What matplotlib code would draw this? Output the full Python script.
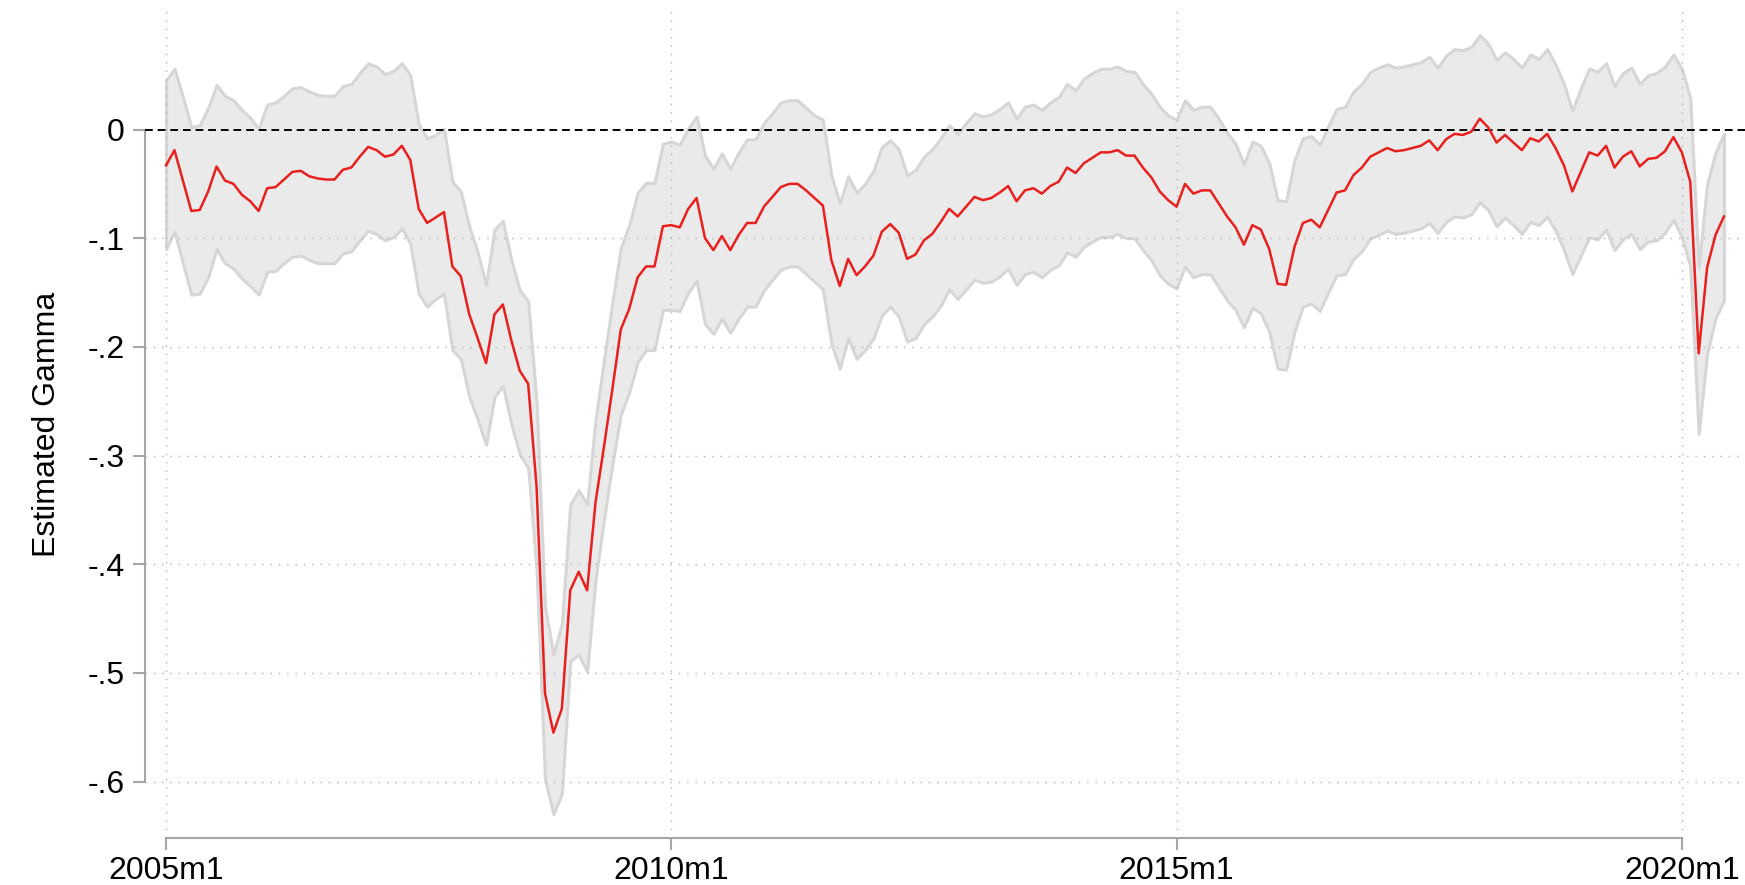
import numpy as np
import matplotlib
matplotlib.use("Agg")
import matplotlib.pyplot as plt

# Monatsreihe 2005m1 bis 2020m6 (186 Monate)
start_jahr = 2005
monate = np.arange(186)

# Punktschaetzer (rote Linie)
gamma = [
    -0.033, -0.019, -0.047, -0.075, -0.074, -0.057, -0.034, -0.047, -0.050, -0.060, -0.066, -0.075,
    -0.054, -0.053, -0.046, -0.039, -0.038, -0.043, -0.045, -0.046, -0.046, -0.037, -0.035, -0.025,
    -0.016, -0.019, -0.025, -0.023, -0.015, -0.028, -0.073, -0.086, -0.081, -0.076, -0.126, -0.135,
    -0.170, -0.192, -0.215, -0.170, -0.161, -0.194, -0.222, -0.234, -0.329, -0.519, -0.555, -0.533,
    -0.424, -0.407, -0.424, -0.343, -0.292, -0.239, -0.184, -0.165, -0.136, -0.126, -0.126, -0.089,
    -0.088, -0.090, -0.073, -0.063, -0.100, -0.111, -0.098, -0.111, -0.097, -0.086, -0.086, -0.071,
    -0.062, -0.053, -0.050, -0.050, -0.056, -0.063, -0.070, -0.120, -0.144, -0.119, -0.134, -0.126,
    -0.116, -0.094, -0.087, -0.095, -0.119, -0.115, -0.102, -0.096, -0.085, -0.073, -0.080, -0.071,
    -0.062, -0.065, -0.063, -0.058, -0.052, -0.066, -0.056, -0.054, -0.059, -0.052, -0.048, -0.035,
    -0.040, -0.031, -0.026, -0.021, -0.021, -0.019, -0.024, -0.024, -0.035, -0.044, -0.057, -0.065,
    -0.071, -0.050, -0.059, -0.056, -0.056, -0.068, -0.080, -0.090, -0.106, -0.088, -0.092, -0.110,
    -0.142, -0.143, -0.108, -0.086, -0.083, -0.090, -0.074, -0.058, -0.056, -0.042, -0.035, -0.025,
    -0.021, -0.017, -0.020, -0.019, -0.017, -0.015, -0.010, -0.019, -0.009, -0.004, -0.005, -0.002,
    0.010, 0.002, -0.012, -0.005, -0.012, -0.019, -0.008, -0.011, -0.004, -0.017, -0.033, -0.057,
    -0.039, -0.021, -0.024, -0.015, -0.035, -0.025, -0.020, -0.034, -0.027, -0.026, -0.020, -0.007,
    -0.021, -0.048, -0.206, -0.127, -0.097, -0.080,
]

# obere Grenze des Konfidenzbands
obere = [
    0.045, 0.056, 0.030, 0.002, 0.004, 0.020, 0.041, 0.031, 0.027, 0.018, 0.011, 0.001,
    0.023, 0.025, 0.031, 0.038, 0.039, 0.035, 0.032, 0.031, 0.031, 0.040, 0.042, 0.052,
    0.061, 0.058, 0.051, 0.054, 0.061, 0.050, 0.005, -0.008, -0.005, 0.001, -0.048, -0.057,
    -0.089, -0.113, -0.143, -0.092, -0.084, -0.120, -0.148, -0.158, -0.251, -0.439, -0.483, -0.455,
    -0.345, -0.332, -0.345, -0.267, -0.212, -0.159, -0.109, -0.088, -0.058, -0.049, -0.049, -0.013,
    -0.011, -0.014, 0.001, 0.012, -0.024, -0.036, -0.022, -0.036, -0.021, -0.009, -0.009, 0.006,
    0.015, 0.025, 0.027, 0.027, 0.020, 0.013, 0.009, -0.042, -0.068, -0.043, -0.058, -0.050,
    -0.038, -0.016, -0.010, -0.018, -0.042, -0.037, -0.025, -0.018, -0.008, 0.004, -0.004, 0.006,
    0.015, 0.012, 0.014, 0.019, 0.025, 0.010, 0.021, 0.023, 0.018, 0.025, 0.030, 0.042,
    0.036, 0.047, 0.052, 0.056, 0.056, 0.058, 0.054, 0.053, 0.042, 0.033, 0.021, 0.013,
    0.009, 0.027, 0.018, 0.021, 0.021, 0.010, -0.003, -0.013, -0.032, -0.011, -0.015, -0.031,
    -0.065, -0.066, -0.028, -0.008, -0.006, -0.014, 0.003, 0.019, 0.021, 0.035, 0.042, 0.053,
    0.057, 0.060, 0.057, 0.058, 0.060, 0.062, 0.067, 0.057, 0.068, 0.074, 0.073, 0.076,
    0.087, 0.079, 0.064, 0.071, 0.065, 0.057, 0.069, 0.065, 0.074, 0.060, 0.042, 0.017,
    0.038, 0.056, 0.053, 0.061, 0.040, 0.052, 0.057, 0.042, 0.050, 0.052, 0.058, 0.069,
    0.056, 0.029, -0.127, -0.050, -0.021, -0.004,
]

# untere Grenze des Konfidenzbands
untere = [
    -0.110, -0.094, -0.123, -0.152, -0.151, -0.136, -0.110, -0.123, -0.128, -0.137, -0.144, -0.152,
    -0.131, -0.130, -0.123, -0.117, -0.116, -0.120, -0.123, -0.123, -0.123, -0.114, -0.112, -0.102,
    -0.093, -0.096, -0.102, -0.099, -0.091, -0.105, -0.151, -0.163, -0.156, -0.151, -0.203, -0.211,
    -0.246, -0.267, -0.290, -0.246, -0.236, -0.271, -0.299, -0.311, -0.405, -0.598, -0.630, -0.611,
    -0.489, -0.483, -0.499, -0.414, -0.359, -0.308, -0.262, -0.242, -0.214, -0.203, -0.203, -0.166,
    -0.166, -0.167, -0.150, -0.139, -0.179, -0.188, -0.174, -0.187, -0.174, -0.163, -0.163, -0.148,
    -0.138, -0.129, -0.126, -0.126, -0.133, -0.140, -0.147, -0.197, -0.220, -0.192, -0.211, -0.203,
    -0.192, -0.171, -0.163, -0.172, -0.195, -0.192, -0.179, -0.172, -0.162, -0.147, -0.156, -0.147,
    -0.138, -0.141, -0.140, -0.135, -0.128, -0.143, -0.133, -0.131, -0.136, -0.129, -0.125, -0.113,
    -0.117, -0.108, -0.103, -0.099, -0.099, -0.096, -0.100, -0.100, -0.111, -0.120, -0.134, -0.142,
    -0.146, -0.126, -0.136, -0.133, -0.133, -0.145, -0.157, -0.166, -0.182, -0.164, -0.169, -0.186,
    -0.220, -0.221, -0.186, -0.163, -0.160, -0.167, -0.150, -0.134, -0.133, -0.119, -0.112, -0.100,
    -0.097, -0.093, -0.096, -0.095, -0.093, -0.091, -0.086, -0.095, -0.085, -0.080, -0.081, -0.078,
    -0.067, -0.074, -0.089, -0.081, -0.088, -0.096, -0.085, -0.088, -0.080, -0.093, -0.111, -0.133,
    -0.116, -0.099, -0.101, -0.092, -0.111, -0.101, -0.096, -0.110, -0.103, -0.102, -0.095, -0.083,
    -0.099, -0.126, -0.280, -0.206, -0.174, -0.157,
]

# Achsenbeschriftungen
x_ticks = [0, 60, 120, 180]
x_labels = ["2005m1", "2010m1", "2015m1", "2020m1"]
y_ticks = [0, -0.1, -0.2, -0.3, -0.4, -0.5, -0.6]
y_labels = ["0", "-.1", "-.2", "-.3", "-.4", "-.5", "-.6"]

plt.rcParams["font.family"] = ["Liberation Sans", "DejaVu Sans"]

fig = plt.figure(figsize=(17.45, 8.85), dpi=100)
ax = fig.add_axes([0.0831, 0.0531, 0.9169, 0.9356])

achs_grau = "#a6a6a6"

# Konfidenzband mit Rand
ax.fill_between(monate, untere, obere, facecolor="#eaeaea", edgecolor="#d6d6d6",
                linewidth=2.2, zorder=1)

# gepunktete Gitterlinien
for yt in y_ticks[1:]:
    ax.axhline(yt, color="#b4b4b4", linewidth=1.0, linestyle=(0, (1, 5)), zorder=2)
for xt in x_ticks:
    ax.axvline(xt, color="#b4b4b4", linewidth=1.0, linestyle=(0, (1, 5)), zorder=2)

# Nulllinie gestrichelt
null = ax.axhline(0, color="black", linewidth=1.4, zorder=3)
null.set_dashes((4, 2.5))

ax.plot(monate, gamma, color="#e8201e", linewidth=1.8, zorder=4)

ax.set_xlim(-2.5, 187.5)
ax.set_ylim(-0.652, 0.110)

ax.set_xticks(x_ticks)
ax.set_xticklabels(x_labels)
ax.set_yticks(y_ticks)
ax.set_yticklabels(y_labels)

for s in ["top", "right"]:
    ax.spines[s].set_visible(False)
ax.spines["left"].set_bounds(-0.6, 0)
ax.spines["bottom"].set_bounds(0, 180)
for s in ["left", "bottom"]:
    ax.spines[s].set_color(achs_grau)
    ax.spines[s].set_linewidth(1.5)

ax.tick_params(axis="both", colors=achs_grau, length=8.6, width=1.5, labelsize=23,
               labelcolor="black")
ax.tick_params(axis="y", pad=6)
ax.tick_params(axis="x", pad=4)

ax.set_ylabel("Estimated Gamma", fontsize=23, labelpad=18)

fig.savefig("out.png", dpi=100)
